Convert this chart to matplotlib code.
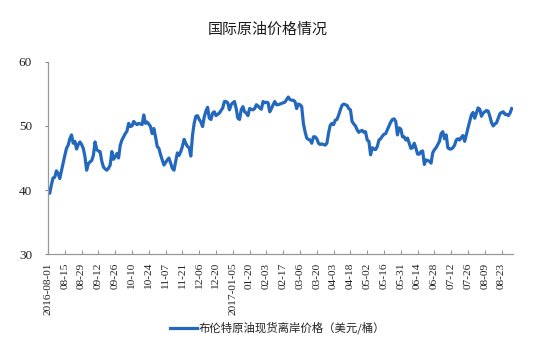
import matplotlib
matplotlib.use("Agg")
import matplotlib.pyplot as plt

# Brent crude spot FOB price, daily trading days 2016-08-01 .. 2017-08-29
prices = [
    40.2, 39.5, 40.8, 41.9, 42.0, 43.0, 42.6, 41.8, 43.0, 44.2,
    45.4, 46.5, 47.0, 48.0, 48.6, 47.3, 47.6, 46.4, 47.1, 47.5,
    47.1, 46.5, 45.2, 43.1, 44.1, 44.4, 44.6, 45.4, 47.5, 46.3,
    46.1, 46.0, 44.5, 43.6, 43.3, 43.1, 43.4, 43.9, 46.0, 44.8,
    45.2, 45.7, 45.0, 47.0, 47.8, 48.3, 48.8, 49.2, 50.4, 49.9,
    50.0, 50.7, 50.4, 50.2, 50.4, 50.3, 50.2, 51.7, 50.4, 50.6,
    50.3, 49.9, 48.8, 49.6, 48.3, 46.8, 46.5, 45.5, 44.7, 43.9,
    44.3, 44.7, 45.0, 44.2, 43.4, 43.1, 44.5, 45.8, 45.4, 46.0,
    46.8, 47.9, 47.3, 46.8, 46.6, 45.3, 48.5, 50.4, 51.5, 51.6,
    51.0, 50.6, 49.9, 51.4, 52.3, 52.9, 51.2, 51.0, 52.0, 52.2,
    51.6, 51.8, 52.0, 52.4, 52.8, 53.8, 53.8, 53.6, 52.5, 53.3,
    53.6, 53.8, 52.7, 51.2, 51.0, 52.5, 53.0, 52.2, 52.0, 51.6,
    52.7, 52.6, 52.5, 52.7, 53.3, 53.1, 52.8, 52.6, 53.8, 53.6,
    53.7, 53.6, 52.2, 52.7, 53.3, 53.8, 53.3, 53.3, 53.4, 53.5,
    53.6, 53.7, 54.1, 54.5, 54.1, 54.0, 54.0, 53.8, 52.7, 53.4,
    53.3, 53.0, 50.4, 49.1, 48.1, 47.9, 47.8, 47.3, 48.3, 48.3,
    48.0, 47.3, 47.1, 47.2, 47.1, 47.0, 47.3, 48.9, 50.1, 50.4,
    50.2, 50.9, 51.0, 51.7, 52.5, 53.2, 53.4, 53.3, 53.2, 52.7,
    52.5, 50.7, 50.3, 50.0, 49.4, 49.0, 49.2, 49.3, 49.0, 49.1,
    47.8, 47.6, 45.5, 46.6, 46.4, 46.3, 46.8, 47.8, 48.0, 48.4,
    48.7, 48.8, 49.4, 50.0, 50.6, 51.0, 51.1, 50.7, 48.6, 49.7,
    49.5, 48.3, 48.3, 47.8, 48.1, 47.3, 46.5, 46.6, 47.3, 46.5,
    45.6, 45.6, 46.0, 46.1, 44.0, 44.7, 44.6, 44.5, 44.2, 45.8,
    46.3, 46.6, 47.1, 47.6, 48.8, 49.1, 48.0, 48.6, 46.6, 46.4,
    46.4, 46.6, 47.0, 47.8, 48.0, 47.8, 48.2, 48.5, 47.6, 48.6,
    49.7, 50.7, 51.7, 52.1, 51.2, 52.0, 52.8, 52.6, 51.5, 52.0,
    52.2, 52.4, 52.3, 51.5, 50.5, 50.0, 50.3, 50.5, 51.2, 51.9,
    52.1, 52.2, 51.8, 51.8, 51.6, 52.0, 52.7,
]

# category labels shown every 10 trading days
date_labels = [
    "2016-08-01", "08-15", "08-29", "09-12", "09-26", "10-10", "10-24",
    "11-07", "11-21", "12-06", "12-20", "2017-01-05", "01-20", "02-03",
    "02-17", "03-06", "03-20", "04-03", "04-18", "05-02", "05-16",
    "05-31", "06-14", "06-28", "07-12", "07-26", "08-09", "08-23",
]
label_step = 10

y_ticks = [30, 40, 50, 60]
title = "国际原油价格情况"
series_name = "布伦特原油现货离岸价格（美元/桶）"

cjk = ["Noto Sans CJK SC", "DejaVu Sans"]
serif = "Liberation Serif"

fig = plt.figure(figsize=(5.55, 3.49), dpi=100)
ax = fig.add_axes([0.0865, 0.2713, 0.8385, 0.5519])

x = list(range(len(prices)))
line, = ax.plot(x, prices, color="#2468BE", linewidth=2.3,
                solid_joinstyle="round", label=series_name)

ax.set_xlim(0, 277)
ax.set_ylim(30, 60)

ax.set_yticks(y_ticks)
ax.set_yticklabels([str(v) for v in y_ticks], fontfamily=serif, fontsize=9.5,
                   color="#222222")
ax.tick_params(axis="y", direction="out", length=2.5, width=0.8,
               color="#888888", pad=9)

tick_pos = [i * label_step for i in range(len(date_labels))]
ax.set_xticks(tick_pos)
ax.set_xticklabels(date_labels, rotation=90, fontfamily=serif, fontsize=8.2,
                   color="#222222", va="top", ha="center")
ax.tick_params(axis="x", direction="in", length=3, width=0.8,
               color="#999999", pad=6)

for side in ("top", "right"):
    ax.spines[side].set_visible(False)
for side in ("left", "bottom"):
    ax.spines[side].set_color("#999999")
    ax.spines[side].set_linewidth(0.9)

fig.text(0.483, 0.915, title, ha="center", va="center",
         fontfamily=cjk, fontsize=10.8, color="#1a1a1a")

leg = fig.legend(handles=[line], loc="center", bbox_to_anchor=(0.5, 0.06),
                 frameon=False, prop={"family": cjk, "size": 8.2},
                 handlelength=2.4, handletextpad=0.1)
for t in leg.get_texts():
    t.set_color("#222222")

fig.savefig("out.png", dpi=100)
